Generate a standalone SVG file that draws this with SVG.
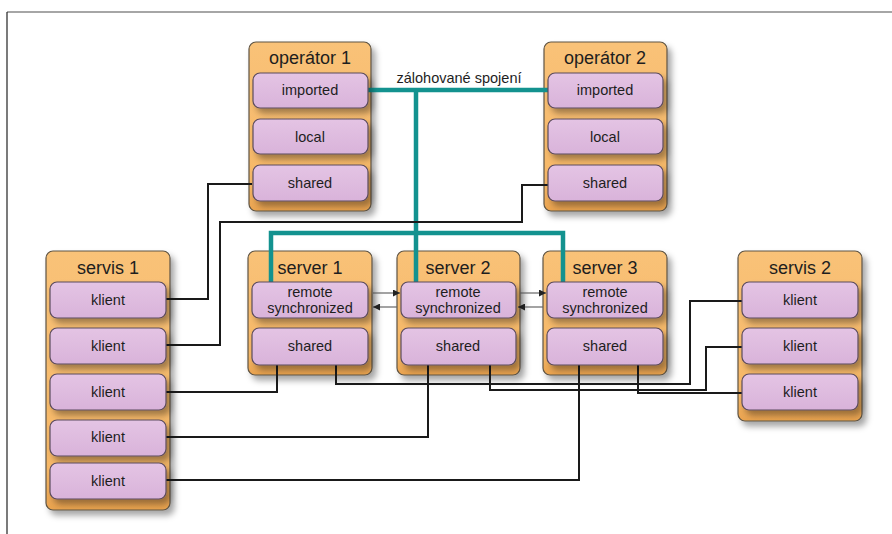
<svg xmlns="http://www.w3.org/2000/svg" width="892" height="534" viewBox="0 0 892 534">
<defs>
<linearGradient id="og" x1="0" y1="0" x2="0" y2="1">
<stop offset="0" stop-color="#F9C278"/>
<stop offset="0.85" stop-color="#F6B766"/>
<stop offset="1" stop-color="#E9A24E"/>
</linearGradient>
<linearGradient id="pg" x1="0" y1="0" x2="0" y2="1">
<stop offset="0" stop-color="#E4C4E4"/>
<stop offset="1" stop-color="#D9B3DA"/>
</linearGradient>
<filter id="sh" x="-20%" y="-20%" width="150%" height="150%">
<feDropShadow dx="4" dy="5" stdDeviation="3" flood-color="#000" flood-opacity="0.35"/>
</filter>
<marker id="ah" viewBox="0 0 10 10" refX="10" refY="5" markerWidth="7" markerHeight="7" orient="auto" markerUnits="userSpaceOnUse">
<path d="M0,0 L10,5 L0,10 z" fill="#222"/>
</marker>
</defs>
<style>
.cont{fill:url(#og);stroke:#5e5444;stroke-width:1.2;filter:url(#sh)}
.box{fill:url(#pg);stroke:#5b4b5c;stroke-width:1.2;filter:url(#sh)}
.title{font-family:"Liberation Sans",Arial,sans-serif;font-size:18px;fill:#1e1e1e;text-anchor:middle}
.lbl{font-family:"Liberation Sans",Arial,sans-serif;font-size:14.5px;fill:#1e1e1e;text-anchor:middle}
.blk{fill:none;stroke:#1a1a1a;stroke-width:2}
.teal{fill:none;stroke:#13928F;stroke-width:4.5}
.arr{fill:none;stroke:#666;stroke-width:1.2;marker-end:url(#ah)}
</style>
<rect width="892" height="534" fill="#fff"/>
<line x1="7" y1="12" x2="892" y2="12" stroke="#888" stroke-width="1.5"/>
<line x1="7" y1="12" x2="7" y2="534" stroke="#222" stroke-width="1.2"/>

<g id="operator1"><rect class="cont" x="249" y="42" width="122" height="169" rx="7"/><text class="title" x="310" y="64">operátor 1</text></g>
<g id="operator2"><rect class="cont" x="544" y="42" width="123" height="169" rx="7"/><text class="title" x="605" y="64">operátor 2</text></g>
<g id="servis1"><rect class="cont" x="46" y="251" width="124" height="259" rx="7"/><text class="title" x="108" y="274">servis 1</text></g>
<g id="server1"><rect class="cont" x="248" y="251" width="124" height="124" rx="7"/><text class="title" x="310" y="274">server 1</text></g>
<g id="server2"><rect class="cont" x="397" y="251" width="123" height="124" rx="7"/><text class="title" x="458" y="274">server 2</text></g>
<g id="server3"><rect class="cont" x="543" y="251" width="124" height="124" rx="7"/><text class="title" x="605" y="274">server 3</text></g>
<g id="servis2"><rect class="cont" x="738" y="251" width="124" height="170" rx="7"/><text class="title" x="800" y="274">servis 2</text></g>

<g id="connectors">
<polyline class="teal" points="368,90 548,90"/>
<polyline class="teal" points="416,90 416,233"/>
<polyline class="teal" points="271,282 271,233 563,233 563,282"/>
<polyline class="teal" points="416,233 416,282"/>
<text class="lbl" x="459" y="83">zálohované spojení</text>
<line class="arr" x1="373" y1="293" x2="400" y2="293"/>
<line class="arr" x1="397" y1="307" x2="373" y2="307"/>
<line class="arr" x1="520" y1="293" x2="546" y2="293"/>
<line class="arr" x1="543" y1="307" x2="518" y2="307"/>
<polyline class="blk" points="252,184 208,184 208,299 166,299"/>
<polyline class="blk" points="548,185 522,185 522,222 220,222 220,345 166,345"/>
<polyline class="blk" points="277,365 277,392 166,392"/>
<polyline class="blk" points="336,365 336,384 690,384 690,301 742,301"/>
<polyline class="blk" points="428,365 428,437 166,437"/>
<polyline class="blk" points="490,365 490,390 706,390 706,347 742,347"/>
<polyline class="blk" points="579,365 579,480 166,480"/>
<polyline class="blk" points="638,365 638,393 742,393"/>
</g>

<g id="op1-imported"><rect class="box" x="253" y="73" width="115" height="35" rx="7"/><text class="lbl" x="310" y="95">imported</text></g>
<g id="op1-local"><rect class="box" x="253" y="119" width="115" height="35" rx="7"/><text class="lbl" x="310" y="142">local</text></g>
<g id="op1-shared"><rect class="box" x="253" y="165" width="115" height="36" rx="7"/><text class="lbl" x="310" y="188">shared</text></g>
<g id="op2-imported"><rect class="box" x="548" y="73" width="115" height="35" rx="7"/><text class="lbl" x="605" y="95">imported</text></g>
<g id="op2-local"><rect class="box" x="548" y="119" width="115" height="35" rx="7"/><text class="lbl" x="605" y="142">local</text></g>
<g id="op2-shared"><rect class="box" x="548" y="165" width="115" height="36" rx="7"/><text class="lbl" x="605" y="188">shared</text></g>

<g id="s1-k1"><rect class="box" x="50" y="282" width="116" height="36" rx="7"/><text class="lbl" x="108" y="305">klient</text></g>
<g id="s1-k2"><rect class="box" x="50" y="328" width="116" height="36" rx="7"/><text class="lbl" x="108" y="351">klient</text></g>
<g id="s1-k3"><rect class="box" x="50" y="374" width="116" height="36" rx="7"/><text class="lbl" x="108" y="397">klient</text></g>
<g id="s1-k4"><rect class="box" x="50" y="420" width="116" height="36" rx="7"/><text class="lbl" x="108" y="442">klient</text></g>
<g id="s1-k5"><rect class="box" x="50" y="463" width="116" height="36" rx="7"/><text class="lbl" x="108" y="486">klient</text></g>

<g id="sv1-remote"><rect class="box" x="252" y="282" width="116" height="36" rx="7"/><text class="lbl" x="310" y="297">remote</text><text class="lbl" x="310" y="313">synchronized</text></g>
<g id="sv1-shared"><rect class="box" x="252" y="328" width="116" height="37" rx="7"/><text class="lbl" x="310" y="351">shared</text></g>
<g id="sv2-remote"><rect class="box" x="401" y="282" width="115" height="36" rx="7"/><text class="lbl" x="458" y="297">remote</text><text class="lbl" x="458" y="313">synchronized</text></g>
<g id="sv2-shared"><rect class="box" x="401" y="328" width="115" height="37" rx="7"/><text class="lbl" x="458" y="351">shared</text></g>
<g id="sv3-remote"><rect class="box" x="547" y="282" width="116" height="36" rx="7"/><text class="lbl" x="605" y="297">remote</text><text class="lbl" x="605" y="313">synchronized</text></g>
<g id="sv3-shared"><rect class="box" x="547" y="328" width="116" height="37" rx="7"/><text class="lbl" x="605" y="351">shared</text></g>

<g id="s2-k1"><rect class="box" x="742" y="282" width="116" height="36" rx="7"/><text class="lbl" x="800" y="305">klient</text></g>
<g id="s2-k2"><rect class="box" x="742" y="328" width="116" height="36" rx="7"/><text class="lbl" x="800" y="351">klient</text></g>
<g id="s2-k3"><rect class="box" x="742" y="374" width="116" height="36" rx="7"/><text class="lbl" x="800" y="397">klient</text></g>
</svg>
